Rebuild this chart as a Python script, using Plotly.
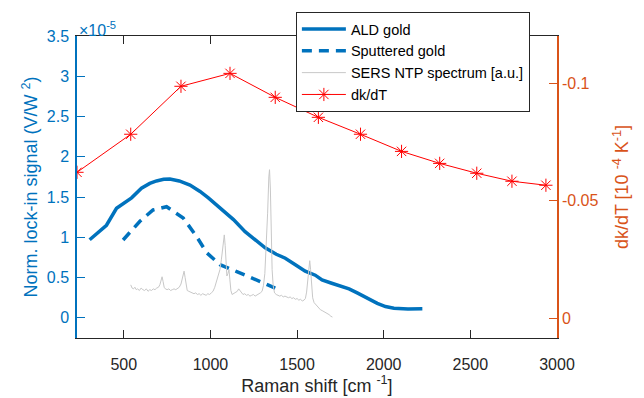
import plotly.graph_objects as go

# ---- data ----
ald_x = [303, 400, 458, 500, 545, 602, 650, 689, 730, 766, 820, 882, 940, 988, 1084, 1133, 1200, 1260, 1316, 1380, 1432, 1490, 1547, 1605, 1644, 1700, 1750, 1800, 1847, 1905, 1963, 2010, 2059, 2140, 2223]
ald_y = [0.97, 1.15, 1.36, 1.42, 1.49, 1.61, 1.67, 1.70, 1.72, 1.725, 1.70, 1.65, 1.57, 1.49, 1.32, 1.22, 1.07, 0.96, 0.87, 0.79, 0.74, 0.66, 0.58, 0.53, 0.47, 0.43, 0.40, 0.36, 0.31, 0.24, 0.18, 0.14, 0.12, 0.11, 0.112]

sput_x = [496, 593, 669, 747, 843, 920, 978, 1055, 1152, 1248, 1374]
sput_y = [0.967, 1.20, 1.34, 1.38, 1.24, 1.01, 0.81, 0.66, 0.575, 0.49, 0.37]

sers_x = [540, 548, 556, 564, 572, 580, 590, 600, 610, 620, 630, 640, 650, 660, 670, 680, 690, 700, 708, 715,
          721, 727, 733, 740, 750, 760, 770, 780, 790, 800, 810, 820, 830, 840, 848, 854, 860, 866, 875, 885,
          895, 905, 915, 925, 935, 945, 955, 965, 975, 985, 995, 1005, 1015, 1025, 1035, 1045, 1055, 1063, 1070, 1076,
          1080, 1085, 1090, 1095, 1101, 1107, 1112, 1118, 1125, 1135, 1145, 1155, 1163, 1170, 1178, 1188, 1198, 1208, 1218, 1228,
          1238, 1248, 1258, 1268, 1278, 1288, 1298, 1306, 1314, 1322, 1330, 1337, 1341, 1346, 1351, 1356, 1362, 1370, 1380, 1390,
          1400, 1410, 1420, 1430, 1440, 1450, 1460, 1470, 1480, 1490, 1500, 1510, 1520, 1530, 1540, 1548, 1555, 1562, 1568, 1573,
          1578, 1584, 1590, 1598, 1606, 1615, 1625, 1635, 1645, 1655, 1665, 1675, 1685, 1695, 1704]
sers_y = [0.41, 0.37, 0.36, 0.38, 0.35, 0.36, 0.34, 0.37, 0.35, 0.34, 0.36, 0.33, 0.35, 0.34, 0.36, 0.35, 0.37, 0.38, 0.41, 0.47,
          0.51, 0.45, 0.38, 0.36, 0.35, 0.36, 0.34, 0.35, 0.36, 0.35, 0.36, 0.38, 0.42, 0.50, 0.58, 0.50, 0.40, 0.34, 0.33, 0.32,
          0.31, 0.30, 0.31, 0.29, 0.30, 0.28, 0.30, 0.29, 0.28, 0.30, 0.29, 0.31, 0.33, 0.38, 0.45, 0.52, 0.60, 0.72, 0.88, 1.01,
          1.03, 0.90, 0.62, 0.52, 0.55, 0.60, 0.48, 0.34, 0.29, 0.30, 0.31, 0.33, 0.36, 0.34, 0.31, 0.29, 0.30, 0.28, 0.29, 0.27,
          0.28, 0.29, 0.27, 0.28, 0.30, 0.31, 0.33, 0.40, 0.55, 0.85, 1.30, 1.75, 1.84, 1.60, 1.05, 0.60, 0.40, 0.31, 0.29, 0.28,
          0.27, 0.28, 0.26, 0.27, 0.26, 0.25, 0.26, 0.24, 0.25, 0.23, 0.24, 0.22, 0.23, 0.21, 0.22, 0.24, 0.32, 0.48, 0.66, 0.71,
          0.60, 0.40, 0.25, 0.19, 0.17, 0.14, 0.12, 0.10, 0.09, 0.08, 0.06, 0.05, 0.04, 0.02, 0.01]

dkdt_x = [230, 540, 830, 1113, 1374, 1623, 1866, 2103, 2323, 2537, 2740, 2936]
dkdt_y = [-0.0620, -0.0782, -0.0986, -0.1041, -0.0939, -0.0854, -0.0782, -0.0709, -0.0658, -0.0616, -0.0582, -0.0565]

x_ticks = [500, 1000, 1500, 2000, 2500, 3000]
left_ticks = [0, 0.5, 1, 1.5, 2, 2.5, 3, 3.5]
left_ticktext = ["0", "0.5", "1", "1.5", "2", "2.5", "3", "3.5"]
right_ticks = [-0.1, -0.05, 0]
right_ticktext = ["-0.1", "-0.05", "0"]

BLUE = "#0072BD"
ORANGE = "#D95319"
DARK = "#262626"
FONT = "Liberation Sans, Arial, Helvetica, sans-serif"

fig = go.Figure()
fig.add_trace(go.Scatter(x=ald_x, y=ald_y, mode="lines", name="ALD gold",
                         line=dict(color=BLUE, width=3.5)))
fig.add_trace(go.Scatter(x=sput_x, y=sput_y, mode="lines", name="Sputtered gold",
                         line=dict(color=BLUE, width=3.5, dash="10px,7px")))
fig.add_trace(go.Scatter(x=sers_x, y=sers_y, mode="lines", name="SERS NTP spectrum [a.u.]",
                         line=dict(color="#C8C8C8", width=1)))
fig.add_trace(go.Scatter(x=dkdt_x, y=dkdt_y, mode="lines+markers", name="dk/dT", yaxis="y2",
                         line=dict(color="#FF0000", width=1),
                         marker=dict(symbol="asterisk-open", size=11, color="#FF0000",
                                     line=dict(color="#FF0000", width=1))))

# the page body has an 8px margin, so the figure is drawn 8px right/down
fig.update_layout(
    width=636, height=390,
    margin=dict(l=69, r=87, t=28, b=60, autoexpand=False),
    paper_bgcolor="white", plot_bgcolor="white",
    font=dict(family=FONT, size=16, color=DARK),
    showlegend=True,
    legend=dict(x=0.456, y=1.0795, xanchor="left", yanchor="top",
                bgcolor="white", bordercolor="#262626", borderwidth=1,
                font=dict(size=14.5, color="black"), itemwidth=44,
                tracegroupgap=0),
    xaxis=dict(range=[230, 3000], tickvals=x_ticks, ticks="inside", ticklen=8,
               tickcolor=DARK, showline=True, linecolor=DARK, linewidth=1.2,
               mirror="ticks", showgrid=False, zeroline=False, ticklabelstandoff=12,
               tickfont=dict(size=16, color=DARK),
               title=dict(text="Raman shift [cm <sup>-1</sup>]", font=dict(size=18, color=DARK), standoff=6)),
    yaxis=dict(range=[-0.25, 3.5], tickvals=left_ticks, ticktext=left_ticktext,
               ticks="inside", ticklen=8, tickcolor=BLUE, showline=True, linecolor=BLUE,
               linewidth=1.5, showgrid=False, zeroline=False, ticklabelstandoff=3,
               tickfont=dict(size=16, color=BLUE),
               title=dict(text="Norm. lock-in signal (V/W <sup>2</sup>)", font=dict(size=18, color=BLUE), standoff=4)),
    yaxis2=dict(range=[0.0085, -0.12], overlaying="y", side="right",
                tickvals=right_ticks, ticktext=right_ticktext,
                ticks="inside", ticklen=8, tickcolor=ORANGE, showline=True, linecolor=ORANGE,
                linewidth=1.5, showgrid=False, zeroline=False,
                tickfont=dict(size=16, color=ORANGE),
                title=dict(text="dk/dT [10 <sup>-4</sup> K<sup>-1</sup>]", font=dict(size=18, color=ORANGE), standoff=18)),
    annotations=[dict(text="×10<sup>-5</sup>", xref="paper", yref="paper", x=0, y=1,
                      xanchor="left", yanchor="bottom", showarrow=False, yshift=-5,
                      font=dict(size=16, color=BLUE, family=FONT))],
)

fig.write_html("out.html")
